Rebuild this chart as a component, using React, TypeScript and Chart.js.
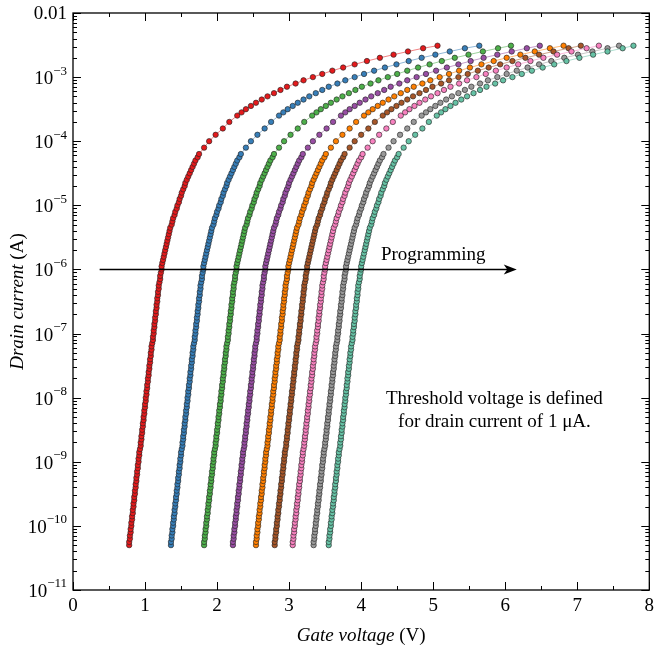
import React, { useEffect, useRef } from "react";
import { Chart, registerables } from "chart.js";

Chart.register(...registerables);

// Drain current levels (A) shared by all sweeps
const drainCurrent = [
  5.01e-11, 5.62e-11, 6.31e-11, 7.08e-11, 7.94e-11, 8.91e-11,
  1e-10, 1.12e-10, 1.26e-10, 1.41e-10, 1.58e-10, 1.78e-10, 2e-10, 2.24e-10, 2.51e-10, 2.82e-10,
  3.16e-10, 3.55e-10, 3.98e-10, 4.47e-10, 5.01e-10, 5.62e-10, 6.31e-10, 7.08e-10, 7.94e-10, 8.91e-10,
  1e-9, 1.12e-9, 1.26e-9, 1.41e-9, 1.58e-9, 1.78e-9, 2e-9, 2.24e-9, 2.51e-9, 2.82e-9,
  3.16e-9, 3.55e-9, 3.98e-9, 4.47e-9, 5.01e-9, 5.62e-9, 6.31e-9, 7.08e-9, 7.94e-9, 8.91e-9,
  1e-8, 1.12e-8, 1.26e-8, 1.41e-8, 1.58e-8, 1.78e-8, 2e-8, 2.24e-8, 2.51e-8, 2.82e-8,
  3.16e-8, 3.55e-8, 3.98e-8, 4.47e-8, 5.01e-8, 5.62e-8, 6.31e-8, 7.08e-8, 7.94e-8, 8.91e-8,
  1e-7, 1.12e-7, 1.26e-7, 1.41e-7, 1.58e-7, 1.78e-7, 2e-7, 2.24e-7, 2.51e-7, 2.82e-7,
  3.16e-7, 3.55e-7, 3.98e-7, 4.47e-7, 5.01e-7, 5.62e-7, 6.31e-7, 7.08e-7, 7.94e-7, 8.91e-7,
  1e-6, 1.12e-6, 1.26e-6, 1.41e-6, 1.58e-6, 1.78e-6, 2e-6, 2.24e-6, 2.51e-6, 2.82e-6,
  3.16e-6, 3.55e-6, 3.98e-6, 4.47e-6, 5.01e-6, 5.62e-6, 6.31e-6, 7.08e-6, 7.94e-6, 8.91e-6,
  1e-5, 1.12e-5, 1.26e-5, 1.41e-5, 1.58e-5, 1.78e-5, 2e-5, 2.24e-5, 2.51e-5, 2.82e-5, 3.16e-5,
  3.55e-5, 3.98e-5, 4.47e-5, 5.01e-5, 5.62e-5, 6.31e-5, 7.94e-5, 1e-4, 1.26e-4, 1.58e-4, 2e-4, 2.51e-4,
  2.82e-4, 3.16e-4, 3.55e-4, 3.98e-4, 4.47e-4, 5.01e-4, 5.62e-4, 6.31e-4, 7.08e-4, 7.94e-4, 8.91e-4,
  1e-3, 1.12e-3, 1.26e-3, 1.41e-3, 1.58e-3, 1.78e-3, 2e-3, 2.24e-3, 2.51e-3, 2.82e-3, 3.09e-3,
];

// Gate voltage (V) of each programming state, one value per current level above
const gateV1 = [
  0.78, 0.78, 0.79, 0.79, 0.80, 0.80, 0.81, 0.81, 0.82, 0.82, 0.83, 0.83, 0.84, 0.84, 0.85, 0.85,
  0.86, 0.86, 0.87, 0.87, 0.88, 0.88, 0.89, 0.89, 0.90, 0.90, 0.91, 0.91, 0.92, 0.92, 0.93,
  0.94, 0.94, 0.95, 0.95, 0.96, 0.96, 0.97, 0.97, 0.98, 0.98, 0.99, 0.99, 1.00, 1.00, 1.01, 1.01,
  1.02, 1.02, 1.03, 1.03, 1.04, 1.04, 1.05, 1.05, 1.06, 1.06, 1.07, 1.07, 1.08, 1.08, 1.09, 1.09, 1.10,
  1.11, 1.11, 1.12, 1.12, 1.13, 1.13, 1.14, 1.14, 1.15, 1.15, 1.16, 1.16,
  1.17, 1.17, 1.18, 1.18, 1.19, 1.19, 1.20, 1.21, 1.21, 1.22, 1.23, 1.23, 1.24, 1.25, 1.26, 1.27,
  1.28, 1.29, 1.30, 1.31, 1.32, 1.33, 1.34, 1.35, 1.37, 1.38, 1.39, 1.41, 1.42, 1.44, 1.45, 1.47,
  1.48, 1.50, 1.51, 1.53, 1.55, 1.56, 1.58, 1.60, 1.62,
  1.64, 1.66, 1.68, 1.70, 1.73, 1.75, 1.82, 1.89, 1.98, 2.08, 2.17, 2.28,
  2.34, 2.40, 2.47, 2.54, 2.62, 2.70, 2.79, 2.88, 2.97, 3.09, 3.20,
  3.33, 3.46, 3.60, 3.75, 3.91, 4.08, 4.26, 4.45, 4.65, 4.86, 5.06,
];
const gateV2 = [
  1.36, 1.36, 1.37, 1.37, 1.38, 1.38, 1.39, 1.39, 1.40, 1.40, 1.41, 1.41, 1.42, 1.42, 1.43, 1.43,
  1.44, 1.44, 1.45, 1.45, 1.46, 1.46, 1.47, 1.47, 1.48, 1.48, 1.49, 1.49, 1.50, 1.50, 1.51,
  1.52, 1.52, 1.53, 1.53, 1.54, 1.54, 1.55, 1.55, 1.56, 1.56, 1.57, 1.57, 1.58, 1.58, 1.59, 1.59,
  1.60, 1.60, 1.61, 1.61, 1.62, 1.62, 1.63, 1.63, 1.64, 1.64, 1.65, 1.65, 1.66, 1.66, 1.67, 1.67, 1.68,
  1.69, 1.69, 1.70, 1.70, 1.71, 1.71, 1.72, 1.72, 1.73, 1.73, 1.74, 1.74,
  1.75, 1.75, 1.76, 1.76, 1.77, 1.77, 1.78, 1.79, 1.79, 1.80, 1.81, 1.81, 1.82, 1.83, 1.84, 1.85,
  1.86, 1.87, 1.88, 1.89, 1.90, 1.91, 1.92, 1.93, 1.95, 1.96, 1.97, 1.99, 2.00, 2.02, 2.03, 2.05,
  2.06, 2.08, 2.09, 2.11, 2.13, 2.14, 2.16, 2.18, 2.20,
  2.22, 2.24, 2.26, 2.28, 2.31, 2.33, 2.40, 2.47, 2.56, 2.66, 2.75, 2.86,
  2.92, 2.98, 3.05, 3.12, 3.20, 3.28, 3.37, 3.46, 3.55, 3.67, 3.78,
  3.91, 4.04, 4.18, 4.33, 4.49, 4.66, 4.84, 5.03, 5.23, 5.44, 5.64,
];
const gateV3 = [
  1.82, 1.82, 1.83, 1.83, 1.84, 1.84, 1.85, 1.85, 1.86, 1.86, 1.87, 1.87, 1.88, 1.88, 1.89, 1.89,
  1.90, 1.90, 1.91, 1.91, 1.92, 1.92, 1.93, 1.93, 1.94, 1.94, 1.95, 1.95, 1.96, 1.96, 1.97,
  1.98, 1.98, 1.99, 1.99, 2.00, 2.00, 2.01, 2.01, 2.02, 2.02, 2.03, 2.03, 2.04, 2.04, 2.05, 2.05,
  2.06, 2.06, 2.07, 2.07, 2.08, 2.08, 2.09, 2.09, 2.10, 2.10, 2.11, 2.11, 2.12, 2.12, 2.13, 2.13, 2.14,
  2.15, 2.15, 2.16, 2.16, 2.17, 2.17, 2.18, 2.18, 2.19, 2.19, 2.20, 2.20,
  2.21, 2.21, 2.22, 2.22, 2.23, 2.23, 2.24, 2.25, 2.25, 2.26, 2.27, 2.27, 2.28, 2.29, 2.30, 2.31,
  2.32, 2.33, 2.34, 2.35, 2.36, 2.37, 2.38, 2.39, 2.41, 2.42, 2.43, 2.45, 2.46, 2.48, 2.49, 2.51,
  2.52, 2.54, 2.55, 2.57, 2.59, 2.60, 2.62, 2.64, 2.66,
  2.68, 2.70, 2.72, 2.74, 2.77, 2.79, 2.86, 2.93, 3.02, 3.12, 3.21, 3.32,
  3.38, 3.44, 3.51, 3.58, 3.66, 3.74, 3.83, 3.92, 4.01, 4.13, 4.24,
  4.37, 4.50, 4.64, 4.79, 4.95, 5.12, 5.30, 5.49, 5.69, 5.90, 6.08,
];
const gateV4 = [
  2.22, 2.22, 2.23, 2.23, 2.24, 2.24, 2.25, 2.25, 2.26, 2.26, 2.27, 2.27, 2.28, 2.28, 2.29, 2.29,
  2.30, 2.30, 2.31, 2.31, 2.32, 2.32, 2.33, 2.33, 2.34, 2.34, 2.35, 2.35, 2.36, 2.36, 2.37,
  2.38, 2.38, 2.39, 2.39, 2.40, 2.40, 2.41, 2.41, 2.42, 2.42, 2.43, 2.43, 2.44, 2.44, 2.45, 2.45,
  2.46, 2.46, 2.47, 2.47, 2.48, 2.48, 2.49, 2.49, 2.50, 2.50, 2.51, 2.51, 2.52, 2.52, 2.53, 2.53, 2.54,
  2.55, 2.55, 2.56, 2.56, 2.57, 2.57, 2.58, 2.58, 2.59, 2.59, 2.60, 2.60,
  2.61, 2.61, 2.62, 2.62, 2.63, 2.63, 2.64, 2.65, 2.65, 2.66, 2.67, 2.67, 2.68, 2.69, 2.70, 2.71,
  2.72, 2.73, 2.74, 2.75, 2.76, 2.77, 2.78, 2.79, 2.81, 2.82, 2.83, 2.85, 2.86, 2.88, 2.89, 2.91,
  2.92, 2.94, 2.95, 2.97, 2.99, 3.00, 3.02, 3.04, 3.06,
  3.08, 3.10, 3.12, 3.14, 3.17, 3.19, 3.26, 3.33, 3.42, 3.52, 3.61, 3.72,
  3.78, 3.84, 3.91, 3.98, 4.06, 4.14, 4.23, 4.32, 4.41, 4.53, 4.64,
  4.77, 4.90, 5.04, 5.19, 5.35, 5.52, 5.70, 5.89, 6.09, 6.30, 6.48,
];
const gateV5 = [
  2.54, 2.54, 2.55, 2.55, 2.56, 2.56, 2.57, 2.57, 2.58, 2.58, 2.59, 2.59, 2.60, 2.60, 2.61, 2.61,
  2.62, 2.62, 2.63, 2.63, 2.64, 2.64, 2.65, 2.65, 2.66, 2.66, 2.67, 2.67, 2.68, 2.68, 2.69,
  2.70, 2.70, 2.71, 2.71, 2.72, 2.72, 2.73, 2.73, 2.74, 2.74, 2.75, 2.75, 2.76, 2.76, 2.77, 2.77,
  2.78, 2.78, 2.79, 2.79, 2.80, 2.80, 2.81, 2.81, 2.82, 2.82, 2.83, 2.83, 2.84, 2.84, 2.85, 2.85, 2.86,
  2.87, 2.87, 2.88, 2.88, 2.89, 2.89, 2.90, 2.90, 2.91, 2.91, 2.92, 2.92,
  2.93, 2.93, 2.94, 2.94, 2.95, 2.95, 2.96, 2.97, 2.97, 2.98, 2.99, 2.99, 3.00, 3.01, 3.02, 3.03,
  3.04, 3.05, 3.06, 3.07, 3.08, 3.09, 3.10, 3.11, 3.13, 3.14, 3.15, 3.17, 3.18, 3.20, 3.21, 3.23,
  3.24, 3.26, 3.27, 3.29, 3.31, 3.32, 3.34, 3.36, 3.38,
  3.40, 3.42, 3.44, 3.46, 3.49, 3.51, 3.58, 3.65, 3.74, 3.84, 3.93, 4.04,
  4.10, 4.16, 4.23, 4.30, 4.38, 4.46, 4.55, 4.64, 4.73, 4.85, 4.96,
  5.09, 5.22, 5.36, 5.51, 5.67, 5.84, 6.02, 6.21, 6.41, 6.62, 6.81,
];
const gateV6 = [
  2.80, 2.80, 2.81, 2.81, 2.82, 2.82, 2.83, 2.83, 2.84, 2.84, 2.85, 2.85, 2.86, 2.86, 2.87, 2.87,
  2.88, 2.88, 2.89, 2.89, 2.90, 2.90, 2.91, 2.91, 2.92, 2.92, 2.93, 2.93, 2.94, 2.94, 2.95,
  2.96, 2.96, 2.97, 2.97, 2.98, 2.98, 2.99, 2.99, 3.00, 3.00, 3.01, 3.01, 3.02, 3.02, 3.03, 3.03,
  3.04, 3.04, 3.05, 3.05, 3.06, 3.06, 3.07, 3.07, 3.08, 3.08, 3.09, 3.09, 3.10, 3.10, 3.11, 3.11, 3.12,
  3.13, 3.13, 3.14, 3.14, 3.15, 3.15, 3.16, 3.16, 3.17, 3.17, 3.18, 3.18,
  3.19, 3.19, 3.20, 3.20, 3.21, 3.21, 3.22, 3.23, 3.23, 3.24, 3.25, 3.25, 3.26, 3.27, 3.28, 3.29,
  3.30, 3.31, 3.32, 3.33, 3.34, 3.35, 3.36, 3.37, 3.39, 3.40, 3.41, 3.43, 3.44, 3.46, 3.47, 3.49,
  3.50, 3.52, 3.53, 3.55, 3.57, 3.58, 3.60, 3.62, 3.64,
  3.66, 3.68, 3.70, 3.72, 3.75, 3.77, 3.84, 3.91, 4.00, 4.10, 4.19, 4.30,
  4.36, 4.42, 4.49, 4.56, 4.64, 4.72, 4.81, 4.90, 4.99, 5.11, 5.22,
  5.35, 5.48, 5.62, 5.77, 5.93, 6.10, 6.28, 6.47, 6.67, 6.88, 7.05,
];
const gateV7 = [
  3.05, 3.05, 3.06, 3.06, 3.07, 3.07, 3.08, 3.08, 3.09, 3.09, 3.10, 3.10, 3.11, 3.11, 3.12, 3.12,
  3.13, 3.13, 3.14, 3.14, 3.15, 3.15, 3.16, 3.16, 3.17, 3.17, 3.18, 3.18, 3.19, 3.19, 3.20,
  3.21, 3.21, 3.22, 3.22, 3.23, 3.23, 3.24, 3.24, 3.25, 3.25, 3.26, 3.26, 3.27, 3.27, 3.28, 3.28,
  3.29, 3.29, 3.30, 3.30, 3.31, 3.31, 3.32, 3.32, 3.33, 3.33, 3.34, 3.34, 3.35, 3.35, 3.36, 3.36, 3.37,
  3.38, 3.38, 3.39, 3.39, 3.40, 3.40, 3.41, 3.41, 3.42, 3.42, 3.43, 3.43,
  3.44, 3.44, 3.45, 3.45, 3.46, 3.46, 3.47, 3.48, 3.48, 3.49, 3.50, 3.50, 3.51, 3.52, 3.53, 3.54,
  3.55, 3.56, 3.57, 3.58, 3.59, 3.60, 3.61, 3.62, 3.64, 3.65, 3.66, 3.68, 3.69, 3.71, 3.72, 3.74,
  3.75, 3.77, 3.78, 3.80, 3.82, 3.83, 3.85, 3.87, 3.89,
  3.91, 3.93, 3.95, 3.97, 4.00, 4.02, 4.09, 4.16, 4.25, 4.35, 4.44, 4.55,
  4.61, 4.67, 4.74, 4.81, 4.89, 4.97, 5.06, 5.15, 5.24, 5.36, 5.47,
  5.60, 5.73, 5.87, 6.02, 6.18, 6.35, 6.53, 6.72, 6.92, 7.13, 7.30,
];
const gateV8 = [
  3.34, 3.34, 3.35, 3.35, 3.36, 3.36, 3.37, 3.37, 3.38, 3.38, 3.39, 3.39, 3.40, 3.40, 3.41, 3.41,
  3.42, 3.42, 3.43, 3.43, 3.44, 3.44, 3.45, 3.45, 3.46, 3.46, 3.47, 3.47, 3.48, 3.48, 3.49,
  3.50, 3.50, 3.51, 3.51, 3.52, 3.52, 3.53, 3.53, 3.54, 3.54, 3.55, 3.55, 3.56, 3.56, 3.57, 3.57,
  3.58, 3.58, 3.59, 3.59, 3.60, 3.60, 3.61, 3.61, 3.62, 3.62, 3.63, 3.63, 3.64, 3.64, 3.65, 3.65, 3.66,
  3.67, 3.67, 3.68, 3.68, 3.69, 3.69, 3.70, 3.70, 3.71, 3.71, 3.72, 3.72,
  3.73, 3.73, 3.74, 3.74, 3.75, 3.75, 3.76, 3.77, 3.77, 3.78, 3.79, 3.79, 3.80, 3.81, 3.82, 3.83,
  3.84, 3.85, 3.86, 3.87, 3.88, 3.89, 3.90, 3.91, 3.93, 3.94, 3.95, 3.97, 3.98, 4.00, 4.01, 4.03,
  4.04, 4.06, 4.07, 4.09, 4.11, 4.12, 4.14, 4.16, 4.18,
  4.20, 4.22, 4.24, 4.26, 4.29, 4.31, 4.38, 4.45, 4.54, 4.64, 4.73, 4.84,
  4.90, 4.96, 5.03, 5.10, 5.18, 5.26, 5.35, 5.44, 5.53, 5.65, 5.76,
  5.89, 6.02, 6.16, 6.31, 6.47, 6.64, 6.82, 7.01, 7.21, 7.42, 7.58,
];
const gateV9 = [
  3.55, 3.55, 3.56, 3.56, 3.57, 3.57, 3.58, 3.58, 3.59, 3.59, 3.60, 3.60, 3.61, 3.61, 3.62, 3.62,
  3.63, 3.63, 3.64, 3.64, 3.65, 3.65, 3.66, 3.66, 3.67, 3.67, 3.68, 3.68, 3.69, 3.69, 3.70,
  3.71, 3.71, 3.72, 3.72, 3.73, 3.73, 3.74, 3.74, 3.75, 3.75, 3.76, 3.76, 3.77, 3.77, 3.78, 3.78,
  3.79, 3.79, 3.80, 3.80, 3.81, 3.81, 3.82, 3.82, 3.83, 3.83, 3.84, 3.84, 3.85, 3.85, 3.86, 3.86, 3.87,
  3.88, 3.88, 3.89, 3.89, 3.90, 3.90, 3.91, 3.91, 3.92, 3.92, 3.93, 3.93,
  3.94, 3.94, 3.95, 3.95, 3.96, 3.96, 3.97, 3.98, 3.98, 3.99, 4.00, 4.00, 4.01, 4.02, 4.03, 4.04,
  4.05, 4.06, 4.07, 4.08, 4.09, 4.10, 4.11, 4.12, 4.14, 4.15, 4.16, 4.18, 4.19, 4.21, 4.22, 4.24,
  4.25, 4.27, 4.28, 4.30, 4.32, 4.33, 4.35, 4.37, 4.39,
  4.41, 4.43, 4.45, 4.47, 4.50, 4.52, 4.59, 4.66, 4.75, 4.85, 4.94, 5.05,
  5.11, 5.17, 5.24, 5.31, 5.39, 5.47, 5.56, 5.65, 5.74, 5.86, 5.97,
  6.10, 6.23, 6.37, 6.52, 6.68, 6.85, 7.03, 7.22, 7.42, 7.63, 7.78,
];

const seriesVoltages = [gateV1, gateV2, gateV3, gateV4, gateV5, gateV6, gateV7, gateV8, gateV9];
const seriesColors = ["#e41a1c", "#377eb8", "#4daf4a", "#984ea3", "#ff7f00", "#a65628", "#f781bf", "#999999", "#66c2a5"];
const lineColors = [
  "rgba(228,26,28,0.55)", "rgba(55,126,184,0.55)", "rgba(77,175,74,0.55)",
  "rgba(152,78,163,0.55)", "rgba(255,127,0,0.55)", "rgba(166,86,40,0.55)",
  "rgba(247,129,191,0.55)", "rgba(153,153,153,0.55)", "rgba(102,194,165,0.55)",
];

const xTickValues = [0, 1, 2, 3, 4, 5, 6, 7, 8];
const xTickLabels = ["0", "1", "2", "3", "4", "5", "6", "7", "8"];
const yTickValues = [1e-2, 1e-3, 1e-4, 1e-5, 1e-6, 1e-7, 1e-8, 1e-9, 1e-10, 1e-11];
const yTickBase = ["0.01", "10", "10", "10", "10", "10", "10", "10", "10", "10"];
const yTickExp = ["", "\u22123", "\u22124", "\u22125", "\u22126", "\u22127", "\u22128", "\u22129", "\u221210", "\u221211"];

const xTitleItalic = "Gate voltage";
const xTitleUnit = " (V)";
const yTitleItalic = "Drain current";
const yTitleUnit = " (A)";
const arrowFrom = { x: 0.37, y: 1e-6 };
const arrowTo = { x: 6.16, y: 1e-6 };
const arrowLabel = "Programming";
const arrowLabelAt = { x: 5.0, y: 1e-6 };
const noteLines = ["Threshold voltage is defined", "for drain current of 1 \u03bcA."];
const noteAt = { x: 5.85, y: 8e-9 };

const FONT = '"Liberation Serif", "Times New Roman", serif';

const framePlugin = {
  id: "frame",
  afterDraw(chart: any) {
    const { ctx, chartArea: a, scales } = chart;
    const xs = scales.x;
    const ys = scales.y;
    ctx.save();
    ctx.strokeStyle = "#000";
    ctx.fillStyle = "#000";

    // ticks (inward, on all four sides)
    ctx.lineWidth = 1;
    ctx.beginPath();
    for (let v = 0; v <= 8.001; v += 0.5) {
      const px = Math.round(xs.getPixelForValue(v)) + 0.5;
      const len = Math.abs(v - Math.round(v)) < 1e-6 ? 8 : 4;
      ctx.moveTo(px, a.bottom);
      ctx.lineTo(px, a.bottom - len);
      ctx.moveTo(px, a.top);
      ctx.lineTo(px, a.top + len);
    }
    for (let d = -11; d <= -2; d++) {
      for (let m = 1; m <= 9; m++) {
        if (d === -2 && m > 1) break;
        const py = Math.round(ys.getPixelForValue(m * Math.pow(10, d))) + 0.5;
        const len = m === 1 ? 8 : 4;
        ctx.moveTo(a.left, py);
        ctx.lineTo(a.left + len, py);
        ctx.moveTo(a.right, py);
        ctx.lineTo(a.right - len, py);
      }
    }
    ctx.stroke();

    // frame
    ctx.lineWidth = 1.3;
    ctx.strokeRect(a.left, a.top, a.right - a.left, a.bottom - a.top);

    // x tick labels
    ctx.font = `19px ${FONT}`;
    ctx.textAlign = "center";
    ctx.textBaseline = "top";
    xTickValues.forEach((v, i) => {
      ctx.fillText(xTickLabels[i], xs.getPixelForValue(v), a.bottom + 7);
    });

    // y tick labels
    const rightEdge = a.left - 6;
    yTickValues.forEach((v, i) => {
      const py = ys.getPixelForValue(v);
      ctx.textBaseline = "middle";
      ctx.textAlign = "left";
      if (!yTickExp[i]) {
        ctx.font = `19px ${FONT}`;
        const w = ctx.measureText(yTickBase[i]).width;
        ctx.fillText(yTickBase[i], rightEdge - w, py + 1);
      } else {
        ctx.font = `13px ${FONT}`;
        const ew = ctx.measureText(yTickExp[i]).width;
        ctx.font = `19px ${FONT}`;
        const bw = ctx.measureText(yTickBase[i]).width;
        ctx.fillText(yTickBase[i], rightEdge - ew - bw, py + 2);
        ctx.font = `13px ${FONT}`;
        ctx.fillText(yTickExp[i], rightEdge - ew, py - 6);
      }
    });

    // x title
    ctx.textBaseline = "alphabetic";
    ctx.textAlign = "left";
    ctx.font = `italic 19px ${FONT}`;
    const w1 = ctx.measureText(xTitleItalic).width;
    ctx.font = `19px ${FONT}`;
    const w2 = ctx.measureText(xTitleUnit).width;
    const cx = (a.left + a.right) / 2;
    const tx = cx - (w1 + w2) / 2;
    ctx.font = `italic 19px ${FONT}`;
    ctx.fillText(xTitleItalic, tx, 641);
    ctx.font = `19px ${FONT}`;
    ctx.fillText(xTitleUnit, tx + w1, 641);

    // y title
    ctx.save();
    ctx.translate(23, (a.top + a.bottom) / 2);
    ctx.rotate(-Math.PI / 2);
    ctx.font = `italic 19px ${FONT}`;
    const h1 = ctx.measureText(yTitleItalic).width;
    ctx.font = `19px ${FONT}`;
    const h2 = ctx.measureText(yTitleUnit).width;
    ctx.font = `italic 19px ${FONT}`;
    ctx.fillText(yTitleItalic, -(h1 + h2) / 2, 0);
    ctx.font = `19px ${FONT}`;
    ctx.fillText(yTitleUnit, -(h1 + h2) / 2 + h1, 0);
    ctx.restore();

    // arrow
    const ax0 = xs.getPixelForValue(arrowFrom.x);
    const ay = Math.round(ys.getPixelForValue(arrowFrom.y)) + 0.5;
    const ax1 = xs.getPixelForValue(arrowTo.x);
    ctx.lineWidth = 1.3;
    ctx.beginPath();
    ctx.moveTo(ax0, ay);
    ctx.lineTo(ax1 - 8, ay);
    ctx.stroke();
    ctx.beginPath();
    ctx.moveTo(ax1, ay);
    ctx.lineTo(ax1 - 13, ay - 5);
    ctx.lineTo(ax1 - 9.5, ay);
    ctx.lineTo(ax1 - 13, ay + 5);
    ctx.closePath();
    ctx.fill();

    // arrow label
    ctx.font = `19px ${FONT}`;
    ctx.textAlign = "center";
    ctx.textBaseline = "alphabetic";
    ctx.fillText(arrowLabel, xs.getPixelForValue(arrowLabelAt.x), ys.getPixelForValue(arrowLabelAt.y) - 9);

    // note
    const nx = xs.getPixelForValue(noteAt.x);
    const ny = ys.getPixelForValue(noteAt.y);
    noteLines.forEach((line, i) => ctx.fillText(line, nx, ny + i * 23));

    ctx.restore();
  },
};

export default function App() {
  const ref = useRef<HTMLCanvasElement>(null);
  useEffect(() => {
    const canvas = ref.current;
    if (!canvas) return;
    const chart = new Chart(canvas, {
      type: "scatter",
      data: {
        datasets: seriesVoltages.map((vs, k) => ({
          label: `state ${k + 1}`,
          data: vs.map((v, i) => ({ x: v, y: drainCurrent[i] })),
          showLine: true,
          borderColor: lineColors[k],
          borderWidth: 1,
          backgroundColor: seriesColors[k],
          pointBackgroundColor: seriesColors[k],
          pointBorderColor: "rgba(35,35,35,0.9)",
          pointBorderWidth: 0.7,
          pointRadius: 2.7,
          order: seriesVoltages.length - k,
        })),
      },
      options: {
        responsive: false,
        animation: false,
        events: [],
        layout: { padding: { left: 73, right: 4.5, top: 13, bottom: 60 } },
        plugins: { legend: { display: false }, tooltip: { enabled: false } },
        scales: {
          x: { type: "linear", min: 0, max: 8, display: false },
          y: { type: "logarithmic", min: 1e-11, max: 1e-2, display: false },
        },
      },
      plugins: [framePlugin],
    });
    return () => chart.destroy();
  }, []);
  return (
    <div style={{ position: "absolute", left: 0, top: 0, width: 654, height: 650, background: "#fff" }}>
      <canvas ref={ref} width={654} height={650} />
    </div>
  );
}
